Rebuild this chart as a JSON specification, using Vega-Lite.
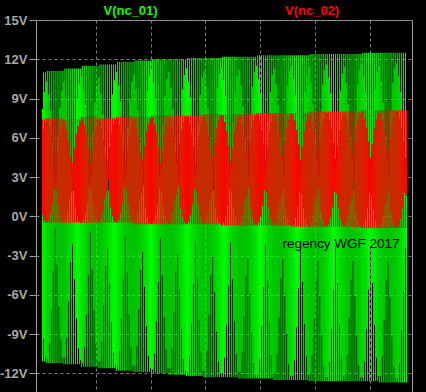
{
"$schema":"https://vega.github.io/schema/vega-lite/v6.json",
"width":376,"height":373,
"autosize":"none",
"padding":{"left":36,"top":20,"right":14,"bottom":0},
"background":"#000000",
"config":{"view":{"stroke":"#a0a0a0","strokeWidth":1,"fill":"#000000"}},
"datasets":{
"cols":[
{"t":1,"a":-11.1,"b":8.2,"c":0.1,"d":7.4},{"t":2,"a":-9.3,"b":11.0,"c":-0.5,"d":6.7},{"t":3,"a":-11.1,"b":9.5,"c":-0.3,"d":7.4},{"t":4,"a":-10.7,"b":11.0,"c":-0.5,"d":7.2},
{"t":5,"a":-11.2,"b":10.3,"c":-0.5,"d":7.5},{"t":6,"a":-10.9,"b":11.1,"c":-0.5,"d":7.4},{"t":7,"a":-11.2,"b":9.3,"c":-0.3,"d":7.5},{"t":8,"a":-9.7,"b":11.1,"c":-0.5,"d":6.9},{"t":9,"a":-11.2,"b":8.1,"c":0.2,"d":7.5},{"t":10,"a":-7.2,"b":11.1,"c":-0.5,"d":6.2},{"t":11,"a":-11.2,"b":5.6,"c":1.0,"d":7.5},{"t":12,"a":-4.2,"b":11.1,"c":-0.5,"d":5.1},{"t":13,"a":-11.2,"b":2.1,"c":2.2,"d":7.5},{"t":14,"a":-0.9,"b":11.1,"c":-0.5,"d":3.9},{"t":15,"a":-11.2,"b":2.6,"c":2.0,"d":7.5},{"t":16,"a":-3.7,"b":11.1,"c":-0.5,"d":4.9},{"t":17,"a":-11.2,"b":6.1,"c":0.9,"d":7.5},{"t":18,"a":-6.9,"b":11.1,"c":-0.5,"d":6.1},{"t":19,"a":-11.2,"b":8.3,"c":0.1,"d":7.5},{"t":20,"a":-9.4,"b":11.1,"c":-0.5,"d":6.8},{"t":21,"a":-11.2,"b":9.6,"c":-0.3,"d":7.5},{"t":22,"a":-10.8,"b":11.1,"c":-0.5,"d":7.3},
{"t":23,"a":-11.3,"b":10.3,"c":-0.5,"d":7.4},{"t":24,"a":-10.8,"b":11.3,"c":-0.5,"d":7.2},{"t":25,"a":-11.3,"b":9.1,"c":-0.2,"d":7.4},{"t":26,"a":-9.3,"b":11.3,"c":-0.5,"d":6.6},{"t":27,"a":-11.3,"b":7.5,"c":0.4,"d":7.4},{"t":28,"a":-6.5,"b":11.3,"c":-0.5,"d":5.8},{"t":29,"a":-11.3,"b":5.0,"c":1.3,"d":7.4},{"t":30,"a":-3.5,"b":11.3,"c":-0.5,"d":4.6},{"t":31,"a":-11.3,"b":3.3,"c":1.8,"d":7.4},{"t":32,"a":-2.1,"b":11.3,"c":-0.5,"d":4.1},{"t":33,"a":-11.3,"b":2.0,"c":2.4,"d":7.4},{"t":34,"a":-4.8,"b":11.3,"c":-0.5,"d":5.2},{"t":35,"a":-11.3,"b":6.9,"c":0.7,"d":7.4},{"t":36,"a":-7.8,"b":11.3,"c":-0.5,"d":6.3},{"t":37,"a":-11.3,"b":9.0,"c":0.0,"d":7.4},{"t":38,"a":-10.1,"b":11.3,"c":-0.5,"d":6.9},{"t":39,"a":-11.3,"b":10.1,"c":-0.4,"d":7.4},{"t":40,"a":-11.0,"b":11.3,"c":-0.5,"d":7.3},
{"t":41,"a":-11.5,"b":10.7,"c":-0.5,"d":7.6},{"t":42,"a":-11.2,"b":11.5,"c":-0.5,"d":7.5},{"t":43,"a":-11.5,"b":9.7,"c":-0.3,"d":7.6},{"t":44,"a":-10.0,"b":11.5,"c":-0.5,"d":7.0},{"t":45,"a":-11.5,"b":8.5,"c":0.2,"d":7.6},{"t":46,"a":-7.5,"b":11.5,"c":-0.5,"d":6.3},{"t":47,"a":-11.5,"b":6.0,"c":1.0,"d":7.6},{"t":48,"a":-4.5,"b":11.5,"c":-0.5,"d":5.2},{"t":49,"a":-11.5,"b":2.5,"c":2.2,"d":7.6},{"t":50,"a":-1.2,"b":11.5,"c":-0.5,"d":4.0},{"t":51,"a":-11.5,"b":3.0,"c":2.0,"d":7.6},{"t":52,"a":-4.0,"b":11.5,"c":-0.5,"d":5.0},{"t":53,"a":-11.5,"b":6.5,"c":0.9,"d":7.6},{"t":54,"a":-7.2,"b":11.5,"c":-0.5,"d":6.2},{"t":55,"a":-11.5,"b":8.7,"c":0.1,"d":7.6},{"t":56,"a":-9.7,"b":11.5,"c":-0.5,"d":6.9},{"t":57,"a":-11.5,"b":10.0,"c":-0.3,"d":7.6},{"t":58,"a":-11.1,"b":11.5,"c":-0.5,"d":7.4},
{"t":59,"a":-11.6,"b":10.6,"c":-0.5,"d":7.5},{"t":60,"a":-11.1,"b":11.6,"c":-0.5,"d":7.3},{"t":61,"a":-11.6,"b":9.4,"c":-0.2,"d":7.5},{"t":62,"a":-9.6,"b":11.6,"c":-0.5,"d":6.7},{"t":63,"a":-11.6,"b":7.8,"c":0.4,"d":7.5},{"t":64,"a":-6.8,"b":11.6,"c":-0.5,"d":5.9},{"t":65,"a":-11.6,"b":5.3,"c":1.3,"d":7.5},{"t":66,"a":-3.8,"b":11.6,"c":-0.5,"d":4.7},{"t":67,"a":-11.6,"b":3.6,"c":1.8,"d":7.5},{"t":68,"a":-2.4,"b":11.6,"c":-0.5,"d":4.2},{"t":69,"a":-11.6,"b":2.0,"c":2.8,"d":7.5},{"t":70,"a":-5.1,"b":11.6,"c":-0.5,"d":5.3},{"t":71,"a":-11.6,"b":7.2,"c":0.7,"d":7.5},{"t":72,"a":-8.1,"b":11.6,"c":-0.5,"d":6.4},{"t":73,"a":-11.6,"b":9.3,"c":0.0,"d":7.5},{"t":74,"a":-10.4,"b":11.6,"c":-0.5,"d":7.0},{"t":75,"a":-11.6,"b":10.4,"c":-0.4,"d":7.5},{"t":76,"a":-11.3,"b":11.6,"c":-0.5,"d":7.4},
{"t":77,"a":-11.8,"b":11.0,"c":-0.5,"d":7.6},{"t":78,"a":-11.5,"b":11.8,"c":-0.5,"d":7.5},{"t":79,"a":-11.8,"b":10.0,"c":-0.3,"d":7.6},{"t":80,"a":-10.3,"b":11.8,"c":-0.5,"d":7.0},{"t":81,"a":-11.8,"b":8.8,"c":0.2,"d":7.6},{"t":82,"a":-7.8,"b":11.8,"c":-0.5,"d":6.3},{"t":83,"a":-11.8,"b":6.3,"c":1.0,"d":7.6},{"t":84,"a":-4.8,"b":11.8,"c":-0.5,"d":5.2},{"t":85,"a":-11.8,"b":2.8,"c":2.2,"d":7.6},{"t":86,"a":-1.5,"b":11.8,"c":-0.5,"d":4.0},{"t":87,"a":-11.8,"b":3.3,"c":2.0,"d":7.6},{"t":88,"a":-4.3,"b":11.8,"c":-0.5,"d":5.0},{"t":89,"a":-11.8,"b":6.8,"c":0.9,"d":7.6},{"t":90,"a":-7.5,"b":11.8,"c":-0.5,"d":6.2},{"t":91,"a":-11.8,"b":9.0,"c":0.1,"d":7.6},{"t":92,"a":-10.0,"b":11.8,"c":-0.5,"d":6.9},{"t":93,"a":-11.8,"b":10.3,"c":-0.3,"d":7.6},{"t":94,"a":-11.4,"b":11.8,"c":-0.5,"d":7.4},
{"t":95,"a":-11.9,"b":10.9,"c":-0.6,"d":7.6},{"t":96,"a":-11.4,"b":11.9,"c":-0.6,"d":7.4},{"t":97,"a":-11.9,"b":9.7,"c":-0.3,"d":7.6},{"t":98,"a":-9.9,"b":11.9,"c":-0.6,"d":6.8},{"t":99,"a":-11.9,"b":8.1,"c":0.3,"d":7.6},{"t":100,"a":-7.1,"b":11.9,"c":-0.6,"d":6.0},{"t":101,"a":-11.9,"b":5.6,"c":1.2,"d":7.6},{"t":102,"a":-4.1,"b":11.9,"c":-0.6,"d":4.8},{"t":103,"a":-11.9,"b":3.9,"c":1.7,"d":7.6},{"t":104,"a":-2.7,"b":11.9,"c":-0.6,"d":4.3},{"t":105,"a":-11.9,"b":2.6,"c":2.3,"d":7.6},{"t":106,"a":-5.4,"b":11.9,"c":-0.6,"d":5.4},{"t":107,"a":-11.9,"b":7.5,"c":0.6,"d":7.6},{"t":108,"a":-8.4,"b":11.9,"c":-0.6,"d":6.5},{"t":109,"a":-11.9,"b":9.6,"c":-0.1,"d":7.6},{"t":110,"a":-10.7,"b":11.9,"c":-0.6,"d":7.1},{"t":111,"a":-11.9,"b":10.7,"c":-0.5,"d":7.6},{"t":112,"a":-11.6,"b":11.9,"c":-0.6,"d":7.5},
{"t":113,"a":-12.0,"b":11.2,"c":-0.6,"d":7.7},{"t":114,"a":-11.7,"b":12.0,"c":-0.6,"d":7.6},{"t":115,"a":-12.0,"b":10.2,"c":-0.4,"d":7.7},{"t":116,"a":-10.5,"b":12.0,"c":-0.6,"d":7.1},{"t":117,"a":-12.0,"b":9.0,"c":0.1,"d":7.7},{"t":118,"a":-8.0,"b":12.0,"c":-0.6,"d":6.4},{"t":119,"a":-12.0,"b":6.5,"c":0.9,"d":7.7},{"t":120,"a":-5.0,"b":12.0,"c":-0.6,"d":5.3},{"t":121,"a":-12.0,"b":3.0,"c":2.1,"d":7.7},{"t":122,"a":-1.7,"b":12.0,"c":-0.6,"d":4.1},{"t":123,"a":-12.0,"b":3.5,"c":1.9,"d":7.7},{"t":124,"a":-4.5,"b":12.0,"c":-0.6,"d":5.1},{"t":125,"a":-12.0,"b":7.0,"c":0.8,"d":7.7},{"t":126,"a":-7.7,"b":12.0,"c":-0.6,"d":6.3},{"t":127,"a":-12.0,"b":9.2,"c":0.0,"d":7.7},{"t":128,"a":-10.2,"b":12.0,"c":-0.6,"d":7.0},{"t":129,"a":-12.0,"b":10.5,"c":-0.4,"d":7.7},{"t":130,"a":-11.6,"b":12.0,"c":-0.6,"d":7.5},
{"t":131,"a":-12.1,"b":11.0,"c":-0.6,"d":7.7},{"t":132,"a":-11.6,"b":12.0,"c":-0.6,"d":7.5},{"t":133,"a":-12.1,"b":9.8,"c":-0.3,"d":7.7},{"t":134,"a":-10.1,"b":12.0,"c":-0.6,"d":6.9},{"t":135,"a":-12.1,"b":8.2,"c":0.3,"d":7.7},{"t":136,"a":-7.3,"b":12.0,"c":-0.6,"d":6.1},{"t":137,"a":-12.1,"b":5.7,"c":1.2,"d":7.7},{"t":138,"a":-4.3,"b":12.0,"c":-0.6,"d":4.9},{"t":139,"a":-12.1,"b":4.0,"c":1.7,"d":7.7},{"t":140,"a":-2.9,"b":12.0,"c":-0.6,"d":4.4},{"t":141,"a":-12.1,"b":2.7,"c":2.3,"d":7.7},{"t":142,"a":-5.6,"b":12.0,"c":-0.6,"d":5.5},{"t":143,"a":-12.1,"b":7.6,"c":0.6,"d":7.7},{"t":144,"a":-8.6,"b":12.0,"c":-0.6,"d":6.6},{"t":145,"a":-12.1,"b":9.7,"c":-0.1,"d":7.7},{"t":146,"a":-10.9,"b":12.0,"c":-0.6,"d":7.2},{"t":147,"a":-12.1,"b":10.8,"c":-0.5,"d":7.7},{"t":148,"a":-11.8,"b":12.0,"c":-0.6,"d":7.6},
{"t":149,"a":-12.2,"b":11.3,"c":-0.6,"d":7.7},{"t":150,"a":-11.9,"b":12.1,"c":-0.6,"d":7.6},{"t":151,"a":-12.2,"b":10.3,"c":-0.4,"d":7.7},{"t":152,"a":-10.7,"b":12.1,"c":-0.6,"d":7.1},{"t":153,"a":-12.2,"b":9.1,"c":0.1,"d":7.7},{"t":154,"a":-8.2,"b":12.1,"c":-0.6,"d":6.4},{"t":155,"a":-12.2,"b":6.6,"c":0.9,"d":7.7},{"t":156,"a":-5.2,"b":12.1,"c":-0.6,"d":5.3},{"t":157,"a":-12.2,"b":3.1,"c":2.1,"d":7.7},{"t":158,"a":-1.9,"b":12.1,"c":-0.6,"d":4.1},{"t":159,"a":-12.2,"b":3.6,"c":1.9,"d":7.7},{"t":160,"a":-4.7,"b":12.1,"c":-0.6,"d":5.1},{"t":161,"a":-12.2,"b":7.1,"c":0.8,"d":7.7},{"t":162,"a":-7.9,"b":12.1,"c":-0.6,"d":6.3},{"t":163,"a":-12.2,"b":9.3,"c":0.0,"d":7.7},{"t":164,"a":-10.4,"b":12.1,"c":-0.6,"d":7.0},{"t":165,"a":-12.2,"b":10.6,"c":-0.4,"d":7.7},{"t":166,"a":-11.8,"b":12.1,"c":-0.6,"d":7.5},
{"t":167,"a":-12.3,"b":11.1,"c":-0.6,"d":7.8},{"t":168,"a":-11.8,"b":12.1,"c":-0.6,"d":7.6},{"t":169,"a":-12.3,"b":9.9,"c":-0.3,"d":7.8},{"t":170,"a":-10.3,"b":12.1,"c":-0.6,"d":7.0},{"t":171,"a":-12.3,"b":8.3,"c":0.3,"d":7.8},{"t":172,"a":-7.5,"b":12.1,"c":-0.6,"d":6.2},{"t":173,"a":-12.3,"b":5.8,"c":1.2,"d":7.8},{"t":174,"a":-4.5,"b":12.1,"c":-0.6,"d":5.0},{"t":175,"a":-12.3,"b":4.1,"c":1.7,"d":7.8},{"t":176,"a":-3.1,"b":12.1,"c":-0.6,"d":4.5},{"t":177,"a":-12.3,"b":2.0,"c":2.7,"d":7.8},{"t":178,"a":-5.8,"b":12.1,"c":-0.6,"d":5.6},{"t":179,"a":-12.3,"b":7.7,"c":0.6,"d":7.8},{"t":180,"a":-8.8,"b":12.1,"c":-0.6,"d":6.7},{"t":181,"a":-12.3,"b":9.8,"c":-0.1,"d":7.8},{"t":182,"a":-11.1,"b":12.1,"c":-0.6,"d":7.3},{"t":183,"a":-12.3,"b":10.9,"c":-0.5,"d":7.8},{"t":184,"a":-12.0,"b":12.1,"c":-0.6,"d":7.7},
{"t":185,"a":-12.3,"b":11.4,"c":-0.7,"d":7.8},{"t":186,"a":-12.0,"b":12.2,"c":-0.7,"d":7.7},{"t":187,"a":-12.3,"b":10.4,"c":-0.5,"d":7.8},{"t":188,"a":-10.8,"b":12.2,"c":-0.7,"d":7.2},{"t":189,"a":-12.3,"b":9.2,"c":0.0,"d":7.8},{"t":190,"a":-8.3,"b":12.2,"c":-0.7,"d":6.5},{"t":191,"a":-12.3,"b":6.7,"c":0.8,"d":7.8},{"t":192,"a":-5.3,"b":12.2,"c":-0.7,"d":5.4},{"t":193,"a":-12.3,"b":3.2,"c":2.0,"d":7.8},{"t":194,"a":-2.0,"b":12.2,"c":-0.7,"d":4.2},{"t":195,"a":-12.3,"b":3.7,"c":1.8,"d":7.8},{"t":196,"a":-4.8,"b":12.2,"c":-0.7,"d":5.2},{"t":197,"a":-12.3,"b":7.2,"c":0.7,"d":7.8},{"t":198,"a":-8.0,"b":12.2,"c":-0.7,"d":6.4},{"t":199,"a":-12.3,"b":9.4,"c":-0.1,"d":7.8},{"t":200,"a":-10.5,"b":12.2,"c":-0.7,"d":7.1},{"t":201,"a":-12.3,"b":10.7,"c":-0.5,"d":7.8},{"t":202,"a":-11.9,"b":12.2,"c":-0.7,"d":7.6},
{"t":203,"a":-12.4,"b":11.2,"c":-0.7,"d":7.8},{"t":204,"a":-11.9,"b":12.2,"c":-0.7,"d":7.6},{"t":205,"a":-12.4,"b":10.0,"c":-0.4,"d":7.8},{"t":206,"a":-10.4,"b":12.2,"c":-0.7,"d":7.0},{"t":207,"a":-12.4,"b":8.4,"c":0.2,"d":7.8},{"t":208,"a":-7.6,"b":12.2,"c":-0.7,"d":6.2},{"t":209,"a":-12.4,"b":5.9,"c":1.1,"d":7.8},{"t":210,"a":-4.6,"b":12.2,"c":-0.7,"d":5.0},{"t":211,"a":-12.4,"b":4.2,"c":1.6,"d":7.8},{"t":212,"a":-3.2,"b":12.2,"c":-0.7,"d":4.5},{"t":213,"a":-12.4,"b":2.9,"c":2.2,"d":7.8},{"t":214,"a":-5.9,"b":12.2,"c":-0.7,"d":5.6},{"t":215,"a":-12.4,"b":7.8,"c":0.5,"d":7.8},{"t":216,"a":-8.9,"b":12.2,"c":-0.7,"d":6.7},{"t":217,"a":-12.4,"b":9.9,"c":-0.2,"d":7.8},{"t":218,"a":-11.2,"b":12.2,"c":-0.7,"d":7.3},{"t":219,"a":-12.4,"b":11.0,"c":-0.6,"d":7.8},{"t":220,"a":-12.1,"b":12.2,"c":-0.7,"d":7.7},
{"t":221,"a":-12.4,"b":11.5,"c":-0.7,"d":7.9},{"t":222,"a":-12.1,"b":12.3,"c":-0.7,"d":7.8},{"t":223,"a":-12.4,"b":10.5,"c":-0.5,"d":7.9},{"t":224,"a":-10.9,"b":12.3,"c":-0.7,"d":7.3},{"t":225,"a":-12.4,"b":9.3,"c":0.0,"d":7.9},{"t":226,"a":-8.4,"b":12.3,"c":-0.7,"d":6.6},{"t":227,"a":-12.4,"b":6.8,"c":0.8,"d":7.9},{"t":228,"a":-5.4,"b":12.3,"c":-0.7,"d":5.5},{"t":229,"a":-12.4,"b":3.3,"c":2.0,"d":7.9},{"t":230,"a":-2.1,"b":12.3,"c":-0.7,"d":4.3},{"t":231,"a":-12.4,"b":3.8,"c":1.8,"d":7.9},{"t":232,"a":-4.9,"b":12.3,"c":-0.7,"d":5.3},{"t":233,"a":-12.4,"b":7.3,"c":0.7,"d":7.9},{"t":234,"a":-8.1,"b":12.3,"c":-0.7,"d":6.5},{"t":235,"a":-12.4,"b":9.5,"c":-0.1,"d":7.9},{"t":236,"a":-10.6,"b":12.3,"c":-0.7,"d":7.2},{"t":237,"a":-12.4,"b":10.8,"c":-0.5,"d":7.9},{"t":238,"a":-12.0,"b":12.3,"c":-0.7,"d":7.7},
{"t":239,"a":-12.5,"b":11.3,"c":-0.7,"d":7.9},{"t":240,"a":-12.0,"b":12.3,"c":-0.7,"d":7.7},{"t":241,"a":-12.5,"b":10.1,"c":-0.4,"d":7.9},{"t":242,"a":-10.5,"b":12.3,"c":-0.7,"d":7.1},{"t":243,"a":-12.5,"b":8.5,"c":0.2,"d":7.9},{"t":244,"a":-7.7,"b":12.3,"c":-0.7,"d":6.3},{"t":245,"a":-12.5,"b":6.0,"c":1.1,"d":7.9},{"t":246,"a":-4.7,"b":12.3,"c":-0.7,"d":5.1},{"t":247,"a":-12.5,"b":4.3,"c":1.6,"d":7.9},{"t":248,"a":-3.3,"b":12.3,"c":-0.7,"d":4.6},{"t":249,"a":-12.5,"b":3.0,"c":2.2,"d":7.9},{"t":250,"a":-6.0,"b":12.3,"c":-0.7,"d":5.7},{"t":251,"a":-12.5,"b":7.9,"c":0.5,"d":7.9},{"t":252,"a":-9.0,"b":12.3,"c":-0.7,"d":6.8},{"t":253,"a":-12.5,"b":10.0,"c":-0.2,"d":7.9},{"t":254,"a":-11.3,"b":12.3,"c":-0.7,"d":7.4},{"t":255,"a":-12.5,"b":11.1,"c":-0.6,"d":7.9},{"t":256,"a":-12.2,"b":12.3,"c":-0.7,"d":7.8},
{"t":257,"a":-12.5,"b":11.5,"c":-0.8,"d":7.9},{"t":258,"a":-12.2,"b":12.3,"c":-0.8,"d":7.8},{"t":259,"a":-12.5,"b":10.5,"c":-0.6,"d":7.9},{"t":260,"a":-11.0,"b":12.3,"c":-0.8,"d":7.3},{"t":261,"a":-12.5,"b":9.3,"c":-0.1,"d":7.9},{"t":262,"a":-8.5,"b":12.3,"c":-0.8,"d":6.6},{"t":263,"a":-12.5,"b":6.8,"c":0.7,"d":7.9},{"t":264,"a":-5.5,"b":12.3,"c":-0.8,"d":5.5},{"t":265,"a":-12.5,"b":3.3,"c":1.9,"d":7.9},{"t":266,"a":-2.2,"b":12.3,"c":-0.8,"d":4.3},{"t":267,"a":-12.5,"b":3.8,"c":1.7,"d":7.9},{"t":268,"a":-5.0,"b":12.3,"c":-0.8,"d":5.3},{"t":269,"a":-12.5,"b":7.3,"c":0.6,"d":7.9},{"t":270,"a":-8.2,"b":12.3,"c":-0.8,"d":6.5},{"t":271,"a":-12.5,"b":9.5,"c":-0.2,"d":7.9},{"t":272,"a":-10.7,"b":12.3,"c":-0.8,"d":7.2},{"t":273,"a":-12.5,"b":10.8,"c":-0.6,"d":7.9},{"t":274,"a":-12.1,"b":12.3,"c":-0.8,"d":7.7},
{"t":275,"a":-12.6,"b":11.4,"c":-0.8,"d":8.0},{"t":276,"a":-12.1,"b":12.4,"c":-0.8,"d":7.8},{"t":277,"a":-12.6,"b":10.2,"c":-0.5,"d":8.0},{"t":278,"a":-10.6,"b":12.4,"c":-0.8,"d":7.2},{"t":279,"a":-12.6,"b":8.6,"c":0.1,"d":8.0},{"t":280,"a":-7.8,"b":12.4,"c":-0.8,"d":6.4},{"t":281,"a":-12.6,"b":6.1,"c":1.0,"d":8.0},{"t":282,"a":-4.8,"b":12.4,"c":-0.8,"d":5.2},{"t":283,"a":-12.6,"b":4.4,"c":1.5,"d":8.0},{"t":284,"a":-3.4,"b":12.4,"c":-0.8,"d":4.7},{"t":285,"a":-12.6,"b":3.1,"c":2.1,"d":8.0},{"t":286,"a":-6.1,"b":12.4,"c":-0.8,"d":5.8},{"t":287,"a":-12.6,"b":8.0,"c":0.4,"d":8.0},{"t":288,"a":-9.1,"b":12.4,"c":-0.8,"d":6.9},{"t":289,"a":-12.6,"b":10.1,"c":-0.3,"d":8.0},{"t":290,"a":-11.4,"b":12.4,"c":-0.8,"d":7.5},{"t":291,"a":-12.6,"b":11.2,"c":-0.7,"d":8.0},{"t":292,"a":-12.3,"b":12.4,"c":-0.8,"d":7.9},
{"t":293,"a":-12.6,"b":11.6,"c":-0.8,"d":8.0},{"t":294,"a":-12.3,"b":12.4,"c":-0.8,"d":7.9},{"t":295,"a":-12.6,"b":10.6,"c":-0.6,"d":8.0},{"t":296,"a":-11.1,"b":12.4,"c":-0.8,"d":7.4},{"t":297,"a":-12.6,"b":9.4,"c":-0.1,"d":8.0},{"t":298,"a":-8.6,"b":12.4,"c":-0.8,"d":6.7},{"t":299,"a":-12.6,"b":6.9,"c":0.7,"d":8.0},{"t":300,"a":-5.6,"b":12.4,"c":-0.8,"d":5.6},{"t":301,"a":-12.6,"b":3.4,"c":1.9,"d":8.0},{"t":302,"a":-2.3,"b":12.4,"c":-0.8,"d":4.4},{"t":303,"a":-12.6,"b":3.9,"c":1.7,"d":8.0},{"t":304,"a":-5.1,"b":12.4,"c":-0.8,"d":5.4},{"t":305,"a":-12.6,"b":7.4,"c":0.6,"d":8.0},{"t":306,"a":-8.3,"b":12.4,"c":-0.8,"d":6.6},{"t":307,"a":-12.6,"b":9.6,"c":-0.2,"d":8.0},{"t":308,"a":-10.8,"b":12.4,"c":-0.8,"d":7.3},{"t":309,"a":-12.6,"b":10.9,"c":-0.6,"d":8.0},{"t":310,"a":-12.2,"b":12.4,"c":-0.8,"d":7.8},
{"t":311,"a":-12.6,"b":11.4,"c":-0.8,"d":8.0},{"t":312,"a":-12.1,"b":12.4,"c":-0.8,"d":7.8},{"t":313,"a":-12.6,"b":10.2,"c":-0.5,"d":8.0},{"t":314,"a":-10.6,"b":12.4,"c":-0.8,"d":7.2},{"t":315,"a":-12.6,"b":8.6,"c":0.1,"d":8.0},{"t":316,"a":-7.8,"b":12.4,"c":-0.8,"d":6.4},{"t":317,"a":-12.6,"b":6.1,"c":1.0,"d":8.0},{"t":318,"a":-4.8,"b":12.4,"c":-0.8,"d":5.2},{"t":319,"a":-12.6,"b":4.4,"c":1.5,"d":8.0},{"t":320,"a":-3.4,"b":12.4,"c":-0.8,"d":4.7},{"t":321,"a":-12.6,"b":2.0,"c":2.8,"d":8.0},{"t":322,"a":-6.1,"b":12.4,"c":-0.8,"d":5.8},{"t":323,"a":-12.6,"b":8.0,"c":0.4,"d":8.0},{"t":324,"a":-9.1,"b":12.4,"c":-0.8,"d":6.9},{"t":325,"a":-12.6,"b":10.1,"c":-0.3,"d":8.0},{"t":326,"a":-11.4,"b":12.4,"c":-0.8,"d":7.5},{"t":327,"a":-12.6,"b":11.2,"c":-0.7,"d":8.0},{"t":328,"a":-12.3,"b":12.4,"c":-0.8,"d":7.9},
{"t":329,"a":-12.6,"b":11.7,"c":-0.9,"d":8.1},{"t":330,"a":-12.3,"b":12.5,"c":-0.9,"d":8.0},{"t":331,"a":-12.6,"b":10.7,"c":-0.7,"d":8.1},{"t":332,"a":-11.1,"b":12.5,"c":-0.9,"d":7.5},{"t":333,"a":-12.6,"b":9.5,"c":-0.2,"d":8.1},{"t":334,"a":-8.6,"b":12.5,"c":-0.9,"d":6.8},{"t":335,"a":-12.6,"b":7.0,"c":0.6,"d":8.1},{"t":336,"a":-5.6,"b":12.5,"c":-0.9,"d":5.7},{"t":337,"a":-12.6,"b":3.5,"c":1.8,"d":8.1},{"t":338,"a":-2.3,"b":12.5,"c":-0.9,"d":4.5},{"t":339,"a":-12.6,"b":4.0,"c":1.6,"d":8.1},{"t":340,"a":-5.1,"b":12.5,"c":-0.9,"d":5.5},{"t":341,"a":-12.6,"b":7.5,"c":0.5,"d":8.1},{"t":342,"a":-8.3,"b":12.5,"c":-0.9,"d":6.7},{"t":343,"a":-12.6,"b":9.7,"c":-0.3,"d":8.1},{"t":344,"a":-10.8,"b":12.5,"c":-0.9,"d":7.4},{"t":345,"a":-12.6,"b":11.0,"c":-0.7,"d":8.1},{"t":346,"a":-12.2,"b":12.5,"c":-0.9,"d":7.9},
{"t":347,"a":-12.7,"b":11.5,"c":-0.9,"d":8.1},{"t":348,"a":-12.2,"b":12.5,"c":-0.9,"d":7.9},{"t":349,"a":-12.7,"b":10.3,"c":-0.6,"d":8.1},{"t":350,"a":-10.7,"b":12.5,"c":-0.9,"d":7.3},{"t":351,"a":-12.7,"b":8.7,"c":0.0,"d":8.1},{"t":352,"a":-7.9,"b":12.5,"c":-0.9,"d":6.5},{"t":353,"a":-12.7,"b":6.2,"c":0.9,"d":8.1},{"t":354,"a":-4.9,"b":12.5,"c":-0.9,"d":5.3},{"t":355,"a":-12.7,"b":4.5,"c":1.4,"d":8.1},{"t":356,"a":-3.5,"b":12.5,"c":-0.9,"d":4.8},{"t":357,"a":-12.7,"b":3.2,"c":2.0,"d":8.1},{"t":358,"a":-6.2,"b":12.5,"c":-0.9,"d":5.9},{"t":359,"a":-12.7,"b":8.1,"c":0.3,"d":8.1},{"t":360,"a":-9.2,"b":12.5,"c":-0.9,"d":7.0},{"t":361,"a":-12.7,"b":10.2,"c":-0.4,"d":8.1},{"t":362,"a":-11.5,"b":12.5,"c":-0.9,"d":7.6},{"t":363,"a":-12.7,"b":11.3,"c":-0.8,"d":8.1},{"t":364,"a":-12.4,"b":12.5,"c":-0.9,"d":8.0},
{"t":365,"a":-12.7,"b":11.7,"c":-0.9,"d":8.1},{"t":366,"a":-12.4,"b":12.5,"c":-0.9,"d":8.0},{"t":367,"a":-12.7,"b":10.7,"c":-0.7,"d":8.1},{"t":368,"a":-11.2,"b":12.5,"c":-0.9,"d":7.5},{"t":369,"a":-12.7,"b":9.5,"c":-0.2,"d":8.1},{"t":370,"a":-8.7,"b":12.5,"c":-0.9,"d":6.8},{"t":371,"a":-12.7,"b":7.0,"c":0.6,"d":8.1},{"t":372,"a":-5.7,"b":12.5,"c":-0.9,"d":5.7},{"t":373,"a":-12.7,"b":3.5,"c":1.8,"d":8.1},{"t":374,"a":-2.4,"b":12.5,"c":-0.9,"d":4.5},{"t":375,"a":-12.7,"b":4.0,"c":1.6,"d":8.1}
],
"lab1":[{"t":91.5,"v":15.65,"s":"V(nc_01)"}],
"lab2":[{"t":278,"v":15.65,"s":"V(nc_02)"}],
"note":[{"t":247.5,"v":-2.42,"s":"regency WGF 2017"}]
},
"layer":[
{"data":{"name":"cols"},
 "mark":{"type":"bar","color":"#00ff00","width":1},
 "encoding":{
  "x":{"field":"t","type":"quantitative","scale":{"domain":[-0.5,375.5],"nice":false,"zero":false},
       "axis":{"title":null,"values":[55.5,112.5,167.5,224.5,280.5,337.5],"labels":false,"ticks":false,"domain":false,"grid":true,"gridColor":"#808080","gridDash":[3,3],"gridWidth":1}},
  "y":{"field":"a","type":"quantitative","scale":{"domain":[-13.5,15],"nice":false,"zero":false},
       "axis":{"title":null,"values":[15,12,9,6,3,0,-3,-6,-9,-12],"labelExpr":"datum.value + 'V'","labelColor":"#a8a8a8","labelFont":"Liberation Sans","labelFontSize":13,"labelFontWeight":"bold","labelPadding":2,"tickColor":"#a0a0a0","tickSize":7,"domain":false,"grid":true,"gridColor":"#808080","gridDash":[3,3],"gridWidth":1}},
  "y2":{"field":"b"}}},
{"data":{"name":"cols"},
 "mark":{"type":"bar","color":"#ff0000","width":1},
 "encoding":{
  "x":{"field":"t","type":"quantitative"},
  "y":{"field":"c","type":"quantitative"},
  "y2":{"field":"d"}}},
{"data":{"name":"lab1"},
 "mark":{"type":"text","color":"#00ff00","font":"Liberation Sans","fontSize":13,"fontWeight":"bold","align":"center","baseline":"middle"},
 "encoding":{"x":{"field":"t","type":"quantitative"},"y":{"field":"v","type":"quantitative"},"text":{"field":"s"}}},
{"data":{"name":"lab2"},
 "mark":{"type":"text","color":"#ff0000","font":"Liberation Sans","fontSize":13,"fontWeight":"bold","align":"center","baseline":"middle"},
 "encoding":{"x":{"field":"t","type":"quantitative"},"y":{"field":"v","type":"quantitative"},"text":{"field":"s"}}},
{"data":{"name":"note"},
 "mark":{"type":"text","color":"#000000","font":"Liberation Sans","fontSize":13.5,"align":"left","baseline":"alphabetic"},
 "encoding":{"x":{"field":"t","type":"quantitative"},"y":{"field":"v","type":"quantitative"},"text":{"field":"s"}}}
]
}
